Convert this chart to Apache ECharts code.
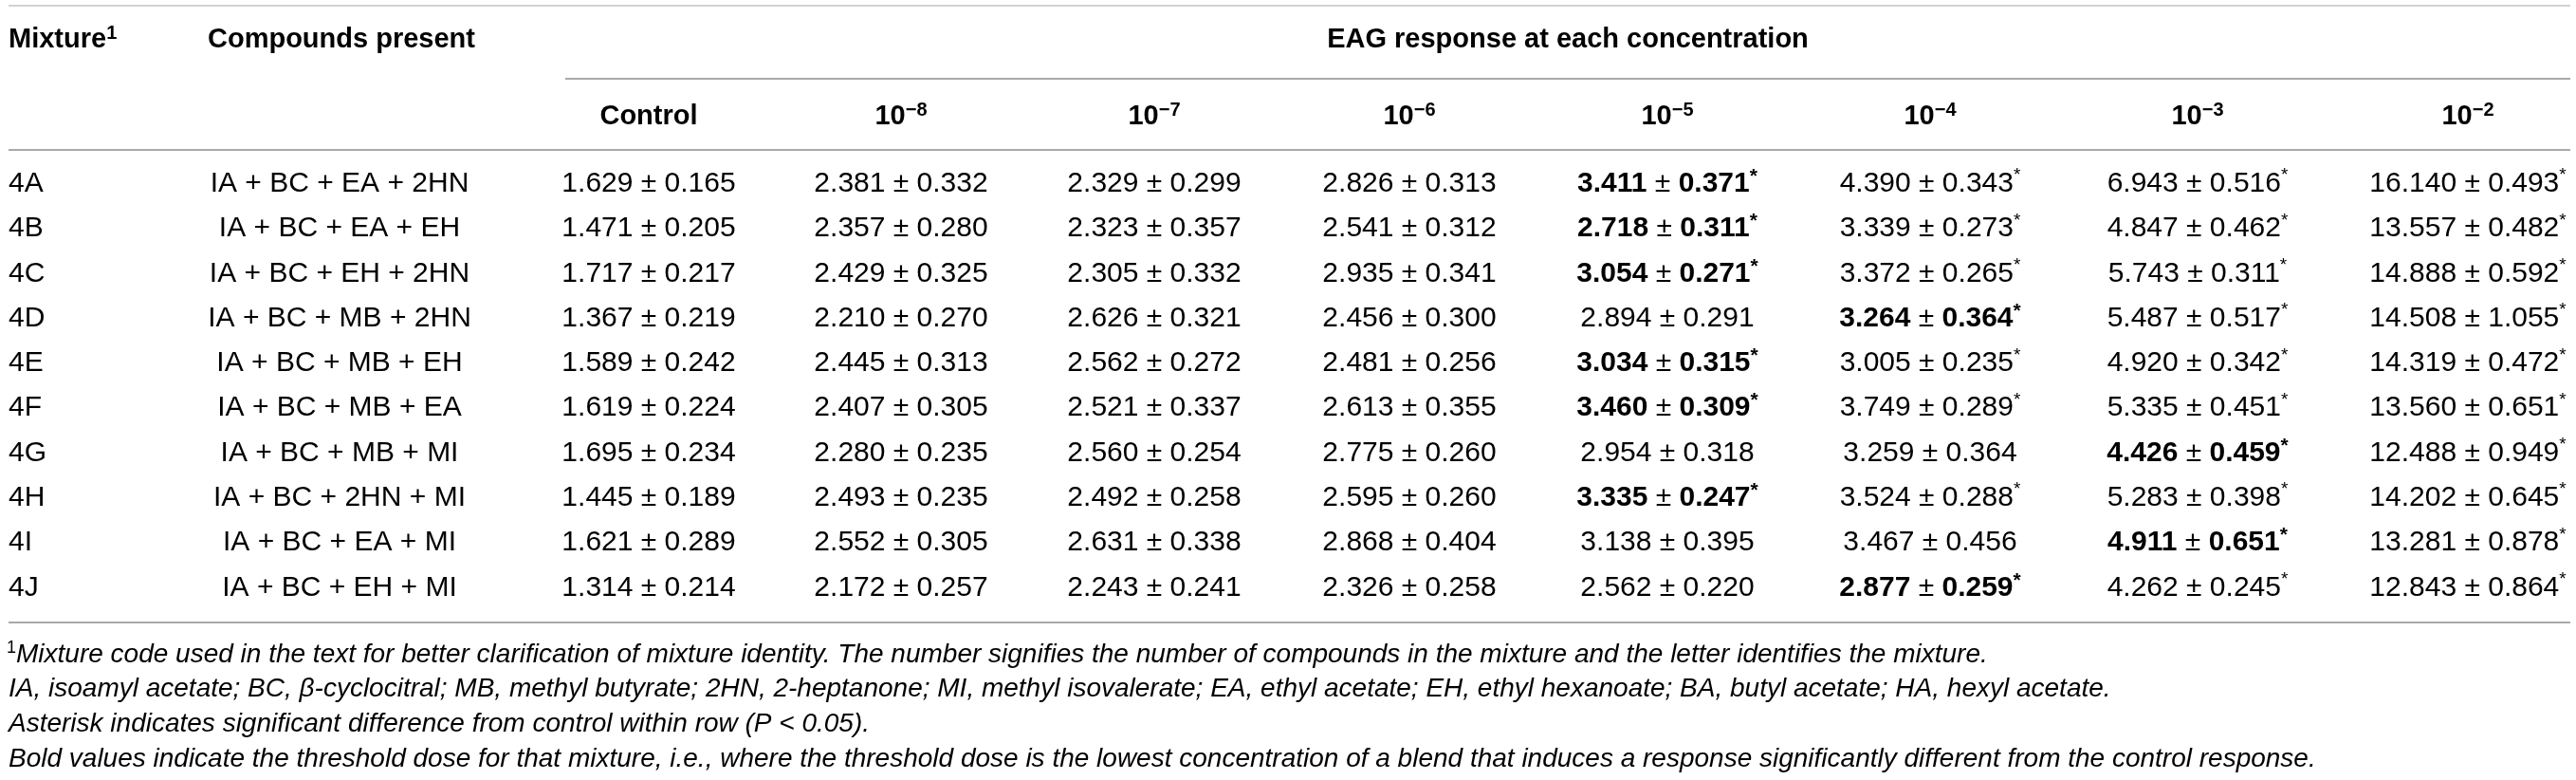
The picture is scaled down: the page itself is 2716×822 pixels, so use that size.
<!DOCTYPE html>
<html>
<head>
<meta charset="utf-8">
<script src="https://cdn.jsdelivr.net/npm/echarts@6/dist/echarts.min.js"></script>
<style>
  html, body { margin: 0; padding: 0; background: #fff; }
  #chart { width: 2716px; height: 822px; }
</style>
</head>
<body>
<div id="chart"></div>
<script>
// EAG 响应表:每个混合物在各浓度下的均值 ± 标准误
const mixtures = ["4A", "4B", "4C", "4D", "4E", "4F", "4G", "4H", "4I", "4J"];
const compounds = [
  "IA + BC + EA + 2HN", "IA + BC + EA + EH", "IA + BC + EH + 2HN", "IA + BC + MB + 2HN",
  "IA + BC + MB + EH", "IA + BC + MB + EA", "IA + BC + MB + MI", "IA + BC + 2HN + MI",
  "IA + BC + EA + MI", "IA + BC + EH + MI",
];
const concNames = ["Control", "10", "10", "10", "10", "10", "10", "10"];
const concExp = [null, -8, -7, -6, -5, -4, -3, -2];

const controlMean = [1.629, 1.471, 1.717, 1.367, 1.589, 1.619, 1.695, 1.445, 1.621, 1.314];
const controlSd   = [0.165, 0.205, 0.217, 0.219, 0.242, 0.224, 0.234, 0.189, 0.289, 0.214];
const e8Mean = [2.381, 2.357, 2.429, 2.210, 2.445, 2.407, 2.280, 2.493, 2.552, 2.172];
const e8Sd   = [0.332, 0.280, 0.325, 0.270, 0.313, 0.305, 0.235, 0.235, 0.305, 0.257];
const e7Mean = [2.329, 2.323, 2.305, 2.626, 2.562, 2.521, 2.560, 2.492, 2.631, 2.243];
const e7Sd   = [0.299, 0.357, 0.332, 0.321, 0.272, 0.337, 0.254, 0.258, 0.338, 0.241];
const e6Mean = [2.826, 2.541, 2.935, 2.456, 2.481, 2.613, 2.775, 2.595, 2.868, 2.326];
const e6Sd   = [0.313, 0.312, 0.341, 0.300, 0.256, 0.355, 0.260, 0.260, 0.404, 0.258];
const e5Mean = [3.411, 2.718, 3.054, 2.894, 3.034, 3.460, 2.954, 3.335, 3.138, 2.562];
const e5Sd   = [0.371, 0.311, 0.271, 0.291, 0.315, 0.309, 0.318, 0.247, 0.395, 0.220];
const e4Mean = [4.390, 3.339, 3.372, 3.264, 3.005, 3.749, 3.259, 3.524, 3.467, 2.877];
const e4Sd   = [0.343, 0.273, 0.265, 0.364, 0.235, 0.289, 0.364, 0.288, 0.456, 0.259];
const e3Mean = [6.943, 4.847, 5.743, 5.487, 4.920, 5.335, 4.426, 5.283, 4.911, 4.262];
const e3Sd   = [0.516, 0.462, 0.311, 0.517, 0.342, 0.451, 0.459, 0.398, 0.651, 0.245];
const e2Mean = [16.140, 13.557, 14.888, 14.508, 14.319, 13.560, 12.488, 14.202, 13.281, 12.843];
const e2Sd   = [0.493, 0.482, 0.592, 1.055, 0.472, 0.651, 0.949, 0.645, 0.878, 0.864];
// 阈值剂量(指数):相等时加粗,大于等于时带星号
const thresholdExp = [-5, -5, -5, -4, -5, -5, -3, -5, -3, -4];

const footnotes = [
  "Mixture code used in the text for better clarification of mixture identity. The number signifies the number of compounds in the mixture and the letter identifies the mixture.",
  "IA, isoamyl acetate; BC, β-cyclocitral; MB, methyl butyrate; 2HN, 2-heptanone; MI, methyl isovalerate; EA, ethyl acetate; EH, ethyl hexanoate; BA, butyl acetate; HA, hexyl acetate.",
  "Asterisk indicates significant difference from control within row (P < 0.05).",
  "Bold values indicate the threshold dose for that mixture, i.e., where the threshold dose is the lowest concentration of a blend that induces a response significantly different from the control response.",
];

const meanCols = [controlMean, e8Mean, e7Mean, e6Mean, e5Mean, e4Mean, e3Mean, e2Mean];
const sdCols = [controlSd, e8Sd, e7Sd, e6Sd, e5Sd, e4Sd, e3Sd, e2Sd];

// 版式
const FONT = "Liberation Sans, Arial, sans-serif";
const INK = "#262626";
const RULE = "#a9a9a9";
const mixX = 9, compX = 358;
const valX = [684, 950, 1217, 1486, 1758, 2035, 2317, 2602];
const rich = {
  n: { fontFamily: FONT, fontSize: 30, color: INK },
  b: { fontFamily: FONT, fontSize: 30, color: "#111", fontWeight: "bold" },
  s: { fontFamily: FONT, fontSize: 19, color: INK, verticalAlign: "top", lineHeight: 36 },
  bs: { fontFamily: FONT, fontSize: 21, color: "#111", fontWeight: "bold", verticalAlign: "top", lineHeight: 36 },
  hb: { fontFamily: FONT, fontSize: 29, color: "#111", fontWeight: "bold" },
  hs: { fontFamily: FONT, fontSize: 20, color: "#111", fontWeight: "bold", verticalAlign: "top", lineHeight: 34 },
  fi: { fontFamily: FONT, fontSize: 28, color: INK, fontStyle: "italic" },
  fs: { fontFamily: FONT, fontSize: 18, color: INK, verticalAlign: "top", lineHeight: 32 },
};

function cellText(r, c) {
  if (c === 0) return `{n|${mixtures[r]}}`;
  if (c === 1) return `{n|${compounds[r]}}`;
  const k = c - 2;
  const m = meanCols[k][r].toFixed(3), sd = sdCols[k][r].toFixed(3);
  const e = concExp[k];
  if (e === null || e < thresholdExp[r]) return `{n|${m} ± ${sd}}`;
  if (e === thresholdExp[r]) return `{b|${m}}{n| ± }{b|${sd}}{bs|*}`;
  return `{n|${m} ± ${sd}}{s|*}`;
}

const cells = [];
mixtures.forEach((_, r) => { for (let c = 0; c < 10; c++) cells.push([c, r]); });

function headText(k) {
  return concExp[k] === null ? `{hb|${concNames[k]}}` : `{hb|${concNames[k]}}{hs|−${-concExp[k]}}`;
}

const line = (x1, x2, y, color) => ({
  type: "line", shape: { x1, y1: y, x2, y2: y }, style: { stroke: color || RULE, lineWidth: 2 }, silent: true,
});
const txt = (x, y, text, align) => ({
  type: "text", x, y, silent: true,
  style: { text, rich, textAlign: align || "center", textVerticalAlign: "middle" },
});

const graphics = [
  line(9, 2710, 6, "#d2d2d2"),
  line(596, 2710, 83),
  line(9, 2710, 158),
  line(9, 2710, 656),
  txt(mixX, 42, "{hb|Mixture}{hs|1}", "left"),
  txt(219, 42, "{hb|Compounds present}", "left"),
  txt(1653, 42, "{hb|EAG response at each concentration}"),
  ...valX.map((x, k) => txt(x, 123, headText(k))),
  txt(7, 690, `{fs|1}{fi|${footnotes[0]}}`, "left"),
  ...footnotes.slice(1).map((f, i) => txt(9, 726 + i * 37, `{fi|${f}}`, "left")),
];

const chart = echarts.init(document.getElementById("chart"), null, { renderer: "canvas" });
chart.setOption({
  animation: false,
  backgroundColor: "#fff",
  grid: { left: 0, right: 0, top: 170, height: 473 },
  xAxis: { type: "value", min: 0, max: 10, show: false },
  yAxis: { type: "category", data: mixtures, inverse: true, show: false },
  graphic: graphics,
  series: [{
    type: "custom",
    data: cells,
    silent: true,
    renderItem(params, api) {
      const c = api.value(0), r = api.value(1);
      const y = api.coord([0, r])[1];
      const x = c === 0 ? mixX : c === 1 ? compX : valX[c - 2];
      return {
        type: "text", x, y,
        style: { text: cellText(r, c), rich, textAlign: c === 0 ? "left" : "center", textVerticalAlign: "middle" },
      };
    },
  }],
});
</script>
</body>
</html>
